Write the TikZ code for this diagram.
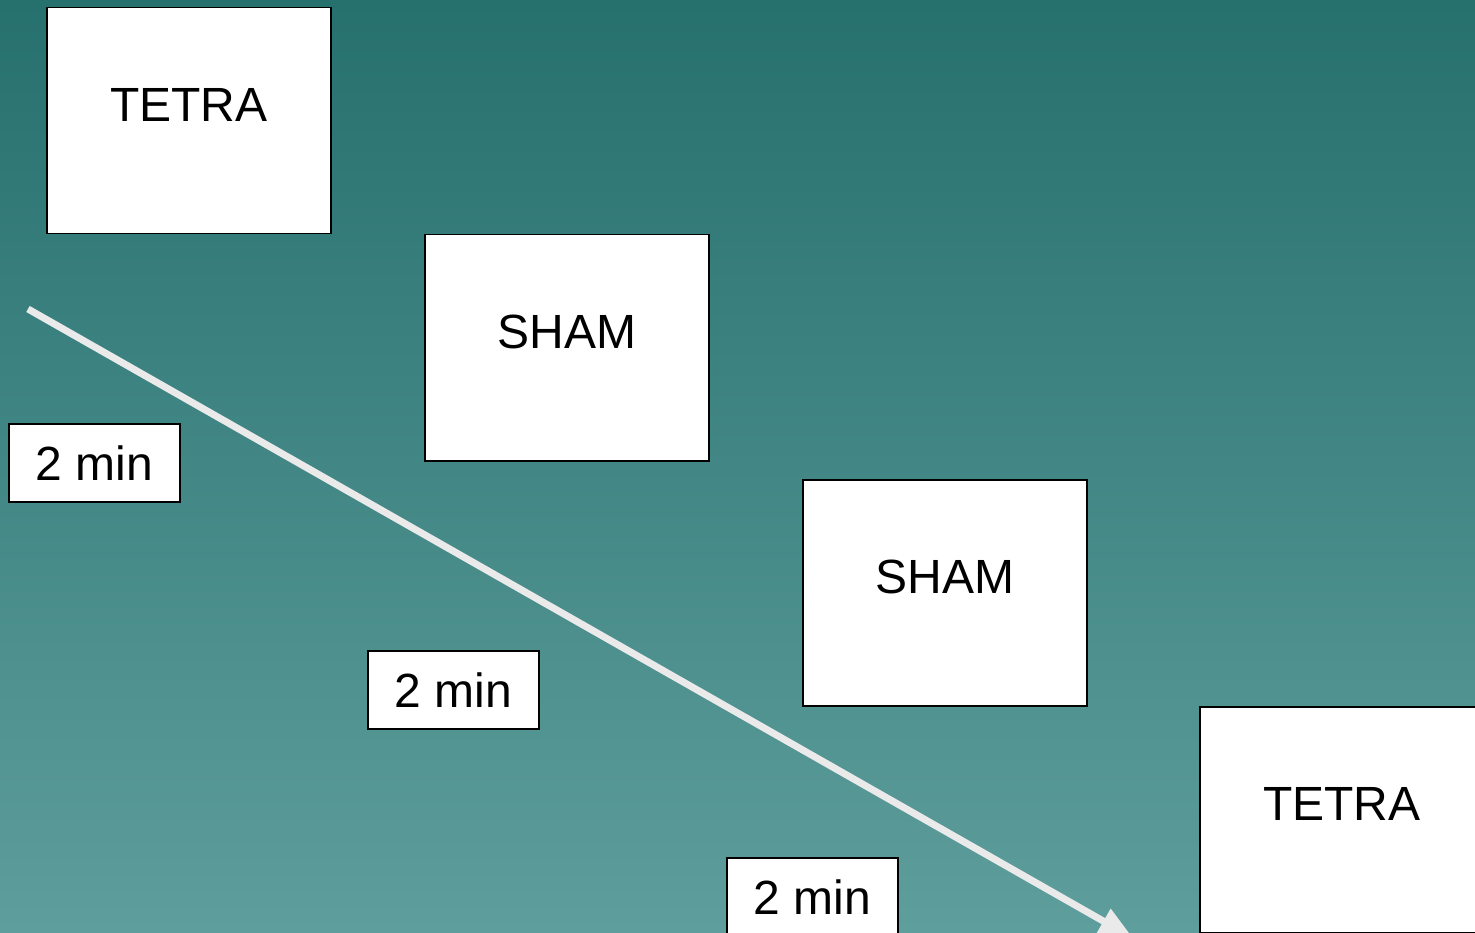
\documentclass[tikz,border=0pt]{standalone}
\usepackage{fontspec}
\setmainfont{Liberation Sans}
\usetikzlibrary{arrows.meta,calc}
\definecolor{bgtop}{RGB}{38,112,110}
\definecolor{bgbot}{RGB}{94,158,156}
\definecolor{arrowgray}{RGB}{234,234,234}
\tikzset{
  bigbox/.style={draw=black,line width=1.5pt,fill=white,minimum width=284pt,minimum height=226pt,inner sep=0pt,anchor=north west},
  smallbox/.style={draw=black,line width=1.5pt,fill=white,minimum width=171pt,minimum height=78pt,inner sep=0pt,anchor=north west,font=\fontsize{48}{58}\selectfont},
  boxtext/.style={font=\fontsize{48}{58}\selectfont,inner sep=0pt},
  timearrow/.style={draw=arrowgray,line width=7pt,-{Triangle[width=27pt,length=34pt]}}
}
\begin{document}
\begin{tikzpicture}[x=1pt,y=-1pt]
\useasboundingbox (0,0) rectangle (1475,933);
\shade[top color=bgtop,bottom color=bgbot] (0,0) rectangle (1475,933);
\begin{scope}
\clip (0,0) rectangle (1475,933);
\node[bigbox] (t1) at (46,7) {};
\node[boxtext] (t1txt) at ($(t1.north)+(0,98)$) {TETRA};
\node[bigbox] (s1) at (424,234) {};
\node[boxtext] (s1txt) at ($(s1.north)+(0,98)$) {SHAM};
\node[bigbox] (s2) at (802,479) {};
\node[boxtext] (s2txt) at ($(s2.north)+(0,98)$) {SHAM};
\node[bigbox] (t2) at (1199,706) {};
\node[boxtext] (t2txt) at ($(t2.north)+(0,98)$) {TETRA};
\node[smallbox] (m1) at (8,423) {2 min};
\node[smallbox] (m2) at (367,650) {2 min};
\node[smallbox] (m3) at (726,857) {2 min};
\coordinate (astart) at (28,309);
\coordinate (aend) at (1133,938);
\draw[timearrow] (astart) -- (aend);
\end{scope}
\end{tikzpicture}
\end{document}
